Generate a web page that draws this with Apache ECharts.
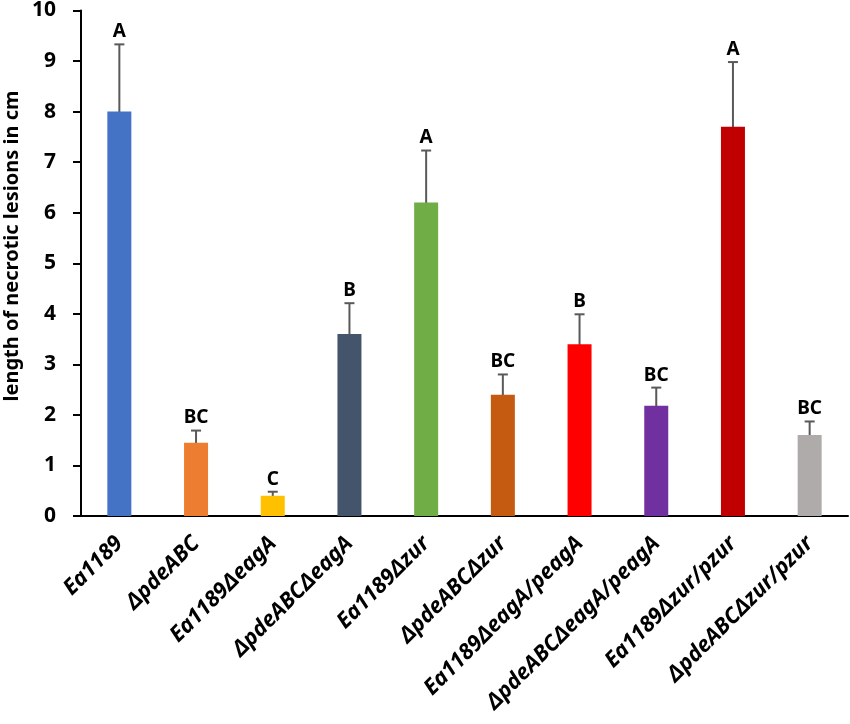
<!DOCTYPE html>
<html><head><meta charset="utf-8">
<script src="https://cdn.jsdelivr.net/npm/echarts@6/dist/echarts.min.js"></script>
<style>html,body{margin:0;padding:0;background:#fff}#c{width:850px;height:724px}</style>
</head><body><div id="c"></div>
<script>
const categories = ['Ea1189','ΔpdeABC','Ea1189ΔeagA','ΔpdeABCΔeagA','Ea1189Δzur','ΔpdeABCΔzur','Ea1189ΔeagA/peagA','ΔpdeABCΔeagA/peagA','Ea1189Δzur/pzur','ΔpdeABCΔzur/pzur'];
const means = [8.0, 1.45, 0.4, 3.6, 6.2, 2.4, 3.4, 2.18, 7.7, 1.6];
const errors = [1.33, 0.24, 0.08, 0.61, 1.03, 0.4, 0.59, 0.36, 1.28, 0.27];
const letters = ['A','BC','C','B','A','BC','B','BC','A','BC'];
const colors = ['#4472C4','#ED7D31','#FFC000','#44546A','#70AD47','#C55A11','#FF0000','#7030A0','#C00000','#AFABAB'];
const yTicks = [0,1,2,3,4,5,6,7,8,9,10];
const yTitle = 'length of necrotic lesions in cm';

const chart = echarts.init(document.getElementById('c'));
const font = '"Noto Sans", sans-serif';
chart.setOption({
  animation: false,
  grid: {left: 81, right: 2, top: 10, bottom: 208},
  graphic: [{
    type: 'text', x: 12, y: 246, rotation: Math.PI / 2,
    style: {text: yTitle, align: 'center', verticalAlign: 'middle',
      font: 'bold 20px "Noto Sans", sans-serif', fill: '#000'}
  }],
  xAxis: {
    type: 'category', data: categories,
    axisLine: {lineStyle: {color: '#000', width: 2}},
    axisTick: {show: false},
    axisLabel: {rotate: 45, interval: 0, margin: 24, fontFamily: font, fontWeight: 'bold', fontStyle: 'italic', fontSize: 22, color: '#000'}
  },
  yAxis: {
    type: 'value', min: 0, max: 10, interval: 1,
    axisLine: {show: true, lineStyle: {color: '#000', width: 2}},
    axisTick: {show: true, length: 8, lineStyle: {color: '#000', width: 2}},
    splitLine: {show: false},
    axisLabel: {fontFamily: font, fontWeight: 'bold', fontSize: 21, color: '#000', margin: 25,
      formatter: v => yTicks.includes(v) ? String(v) : ''}
  },
  series: [
    {type: 'bar', barWidth: 24,
     data: means.map((v, i) => ({value: v, itemStyle: {color: colors[i]}}))},
    {type: 'custom',
     data: means.map((v, i) => [i, v, errors[i]]),
     renderItem: function (params, api) {
       const i = api.value(0), m = api.value(1), e = api.value(2);
       const top = api.coord([i, m + e]);
       const bot = api.coord([i, m - e]);
       const hw = 5;
       const st = {stroke: '#595959', lineWidth: 2};
       return {type: 'group', children: [
         {type: 'line', shape: {x1: top[0], y1: top[1], x2: bot[0], y2: bot[1]}, style: st},
         {type: 'line', shape: {x1: top[0]-hw, y1: top[1], x2: top[0]+hw, y2: top[1]}, style: st},
         {type: 'line', shape: {x1: bot[0]-hw, y1: bot[1], x2: bot[0]+hw, y2: bot[1]}, style: st},
         {type: 'text', style: {text: letters[params.dataIndex], x: top[0], y: top[1] - 3, align: 'center', verticalAlign: 'bottom',
           font: 'bold 19px "Noto Sans", sans-serif', fill: '#000'}}
       ]};
     }
    }
  ]
});
</script></body></html>
